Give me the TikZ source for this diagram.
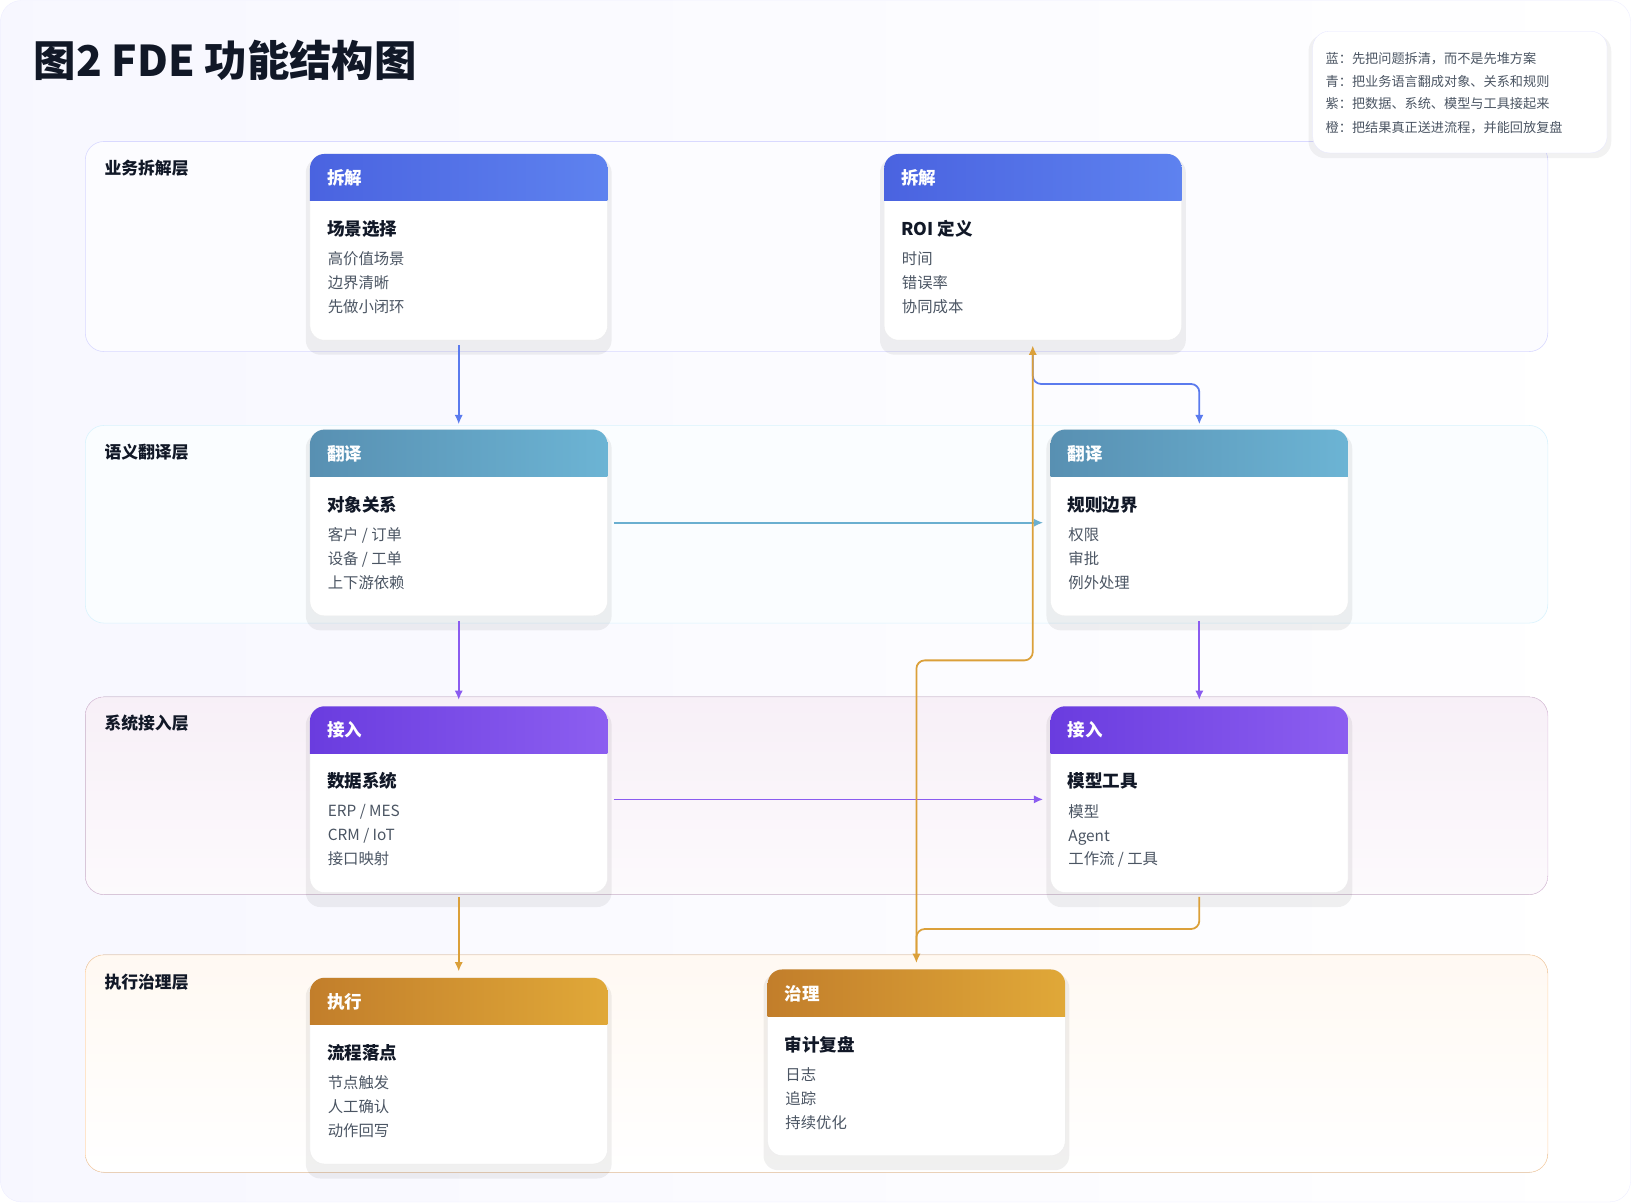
\documentclass[tikz,border=0pt]{standalone}
\usepackage{fontspec}
\setmainfont{Noto Sans CJK SC}
\usetikzlibrary{fit,calc,arrows.meta}
\definecolor{bL}{HTML}{4A63E0}\definecolor{bR}{HTML}{5E82EF}
\definecolor{tL}{HTML}{5890B2}\definecolor{tR}{HTML}{6CB4D4}
\definecolor{pL}{HTML}{6A3CDF}\definecolor{pR}{HTML}{8C5EF0}
\definecolor{oL}{HTML}{C27E2B}\definecolor{oR}{HTML}{E0A838}
\definecolor{aB}{HTML}{5B7BEE}\definecolor{aT}{HTML}{6AAFD0}
\definecolor{aP}{HTML}{8B5CF0}\definecolor{aO}{HTML}{DBA03A}
\definecolor{ink}{HTML}{111827}\definecolor{sub}{HTML}{4B5563}
\newcommand{\fs}[1]{\fontsize{#1pt}{#1pt}\selectfont}
\tikzset{
 layer/.style={rounded corners=0.9cm, line width=0.8pt},
 lab/.style={anchor=west, font=\fs{23}\bfseries, text=ink},
 arr/.style={line width=2.4pt, -{Latex[length=0.45cm,width=0.4cm]}, rounded corners=0.4cm},
 tag/.style={anchor=west, font=\fs{24}\bfseries, text=white},
 ttl/.style={anchor=west, font=\fs{24}\bfseries, text=ink},
 itm/.style={anchor=north west, font=\fontsize{21pt}{32.7pt}\selectfont, text=sub, align=left, inner sep=0pt},
}
% name, x, ytop, col prefix, tag, title, items
\newcommand{\mycard}[7]{%
 \fill[rounded corners=0.7cm, black, opacity=0.06] (#2-4,#3+4) rectangle (#2+290,#3+193);
 \fill[rounded corners=0.7cm, white, draw=black!8] (#2,#3) rectangle (#2+286,#3+179);
 \begin{scope}
  \clip[rounded corners=0.7cm] (#2,#3) rectangle (#2+286,#3+179);
  \shade[left color=#4L, right color=#4R] (#2,#3) rectangle (#2+286,#3+45);
 \end{scope}
 \node[fit={(#2,#3) (#2+286,#3+179)}, inner sep=0pt] (#1) {};
 \node[tag] at (#2+14,#3+23) {#5};
 \node[ttl] at (#2+14,#3+72) {#6};
 \node[itm] at (#2+17,#3+94) {#7};
}
\begin{document}
\begin{tikzpicture}[x=0.05cm,y=-0.05cm]
\useasboundingbox (0,0) rectangle (1568,1156);
\shade[left color=blue!3, right color=white, rounded corners=1cm, draw=blue!8] (0.5,0.5) rectangle (1567.5,1155.5);
\node[anchor=west, font=\fs{58}\bfseries, text=ink] (title) at (30,58) {图2 FDE 功能结构图};
% layers
\fill[layer, fill=blue!1, draw=blue!15] (82,136) rectangle (1488,338);
\fill[layer, fill=cyan!2, draw=cyan!15] (82,409) rectangle (1488,599);
\fill[layer, top color=violet!6, bottom color=violet!2, draw=violet!20] (82,670) rectangle (1488,860);
\fill[layer, top color=orange!5, bottom color=white, draw=orange!30] (82,918) rectangle (1488,1127);
\node[lab] (L1) at (98,162) {业务拆解层};
\node[lab] (L2) at (98,435) {语义翻译层};
\node[lab] (L3) at (98,695) {系统接入层};
\node[lab] (L4) at (98,944) {执行治理层};
% legend
\fill[black, opacity=0.05, rounded corners=0.8cm] (1258,33) rectangle (1549,152);
\fill[white, draw=blue!10, rounded corners=0.8cm] (1262,30) rectangle (1545,147);
\node[anchor=west, font=\fs{18}, text=sub] (g1) at (1272,56) {蓝：先把问题拆清，而不是先堆方案};
\node[anchor=west, font=\fs{18}, text=sub] (g2) at (1272,78) {青：把业务语言翻成对象、关系和规则};
\node[anchor=west, font=\fs{18}, text=sub] (g3) at (1272,100) {紫：把数据、系统、模型与工具接起来};
\node[anchor=west, font=\fs{18}, text=sub] (g4) at (1272,123) {橙：把结果真正送进流程，并能回放复盘};
% cards
\mycard{A}{298}{148}{b}{拆解}{场景选择}{高价值场景\\边界清晰\\先做小闭环}
\mycard{B}{850}{148}{b}{拆解}{ROI 定义}{时间\\错误率\\协同成本}
\mycard{C}{298}{413}{t}{翻译}{对象关系}{客户 / 订单\\设备 / 工单\\上下游依赖}
\mycard{D}{1010}{413}{t}{翻译}{规则边界}{权限\\审批\\例外处理}
\mycard{E}{298}{679}{p}{接入}{数据系统}{ERP / MES\\CRM / IoT\\接口映射}
\mycard{F}{1010}{679}{p}{接入}{模型工具}{模型\\Agent\\工作流 / 工具}
\mycard{G}{298}{940}{o}{执行}{流程落点}{节点触发\\人工确认\\动作回写}
\mycard{H}{738}{932}{o}{治理}{审计复盘}{日志\\追踪\\持续优化}
% connectors
\draw[arr, aB] ([yshift=-0.25cm]A.south) -- ([yshift=0.25cm]C.north);
\draw[arr, aB] ($(B.south west)+(143,13)$) -- ++(0,29) -| ([yshift=0.25cm]D.north);
\draw[arr, aT] ([xshift=0.3cm]C.east) -- ([xshift=-0.35cm]D.west);
\draw[arr, aP] ([yshift=-0.25cm]C.south) -- ([yshift=0.3cm]E.north);
\draw[arr, aP] ([yshift=-0.25cm]D.south) -- ([yshift=0.3cm]F.north);
\draw[arr, aP] ([xshift=0.3cm]E.east) -- ([xshift=-0.35cm]F.west);
\draw[arr, aO] ([yshift=-0.2cm]E.south) -- ([yshift=0.3cm]G.north);
\draw[arr, aO] ([yshift=-0.2cm]F.south) -- ++(0,31) -| ([yshift=0.3cm]H.north);
\draw[arr, aO] ([yshift=0.6cm]H.north) -- ++(0,-285) -| ($(B.south west)+(143,5)$);
\end{tikzpicture}
\end{document}
